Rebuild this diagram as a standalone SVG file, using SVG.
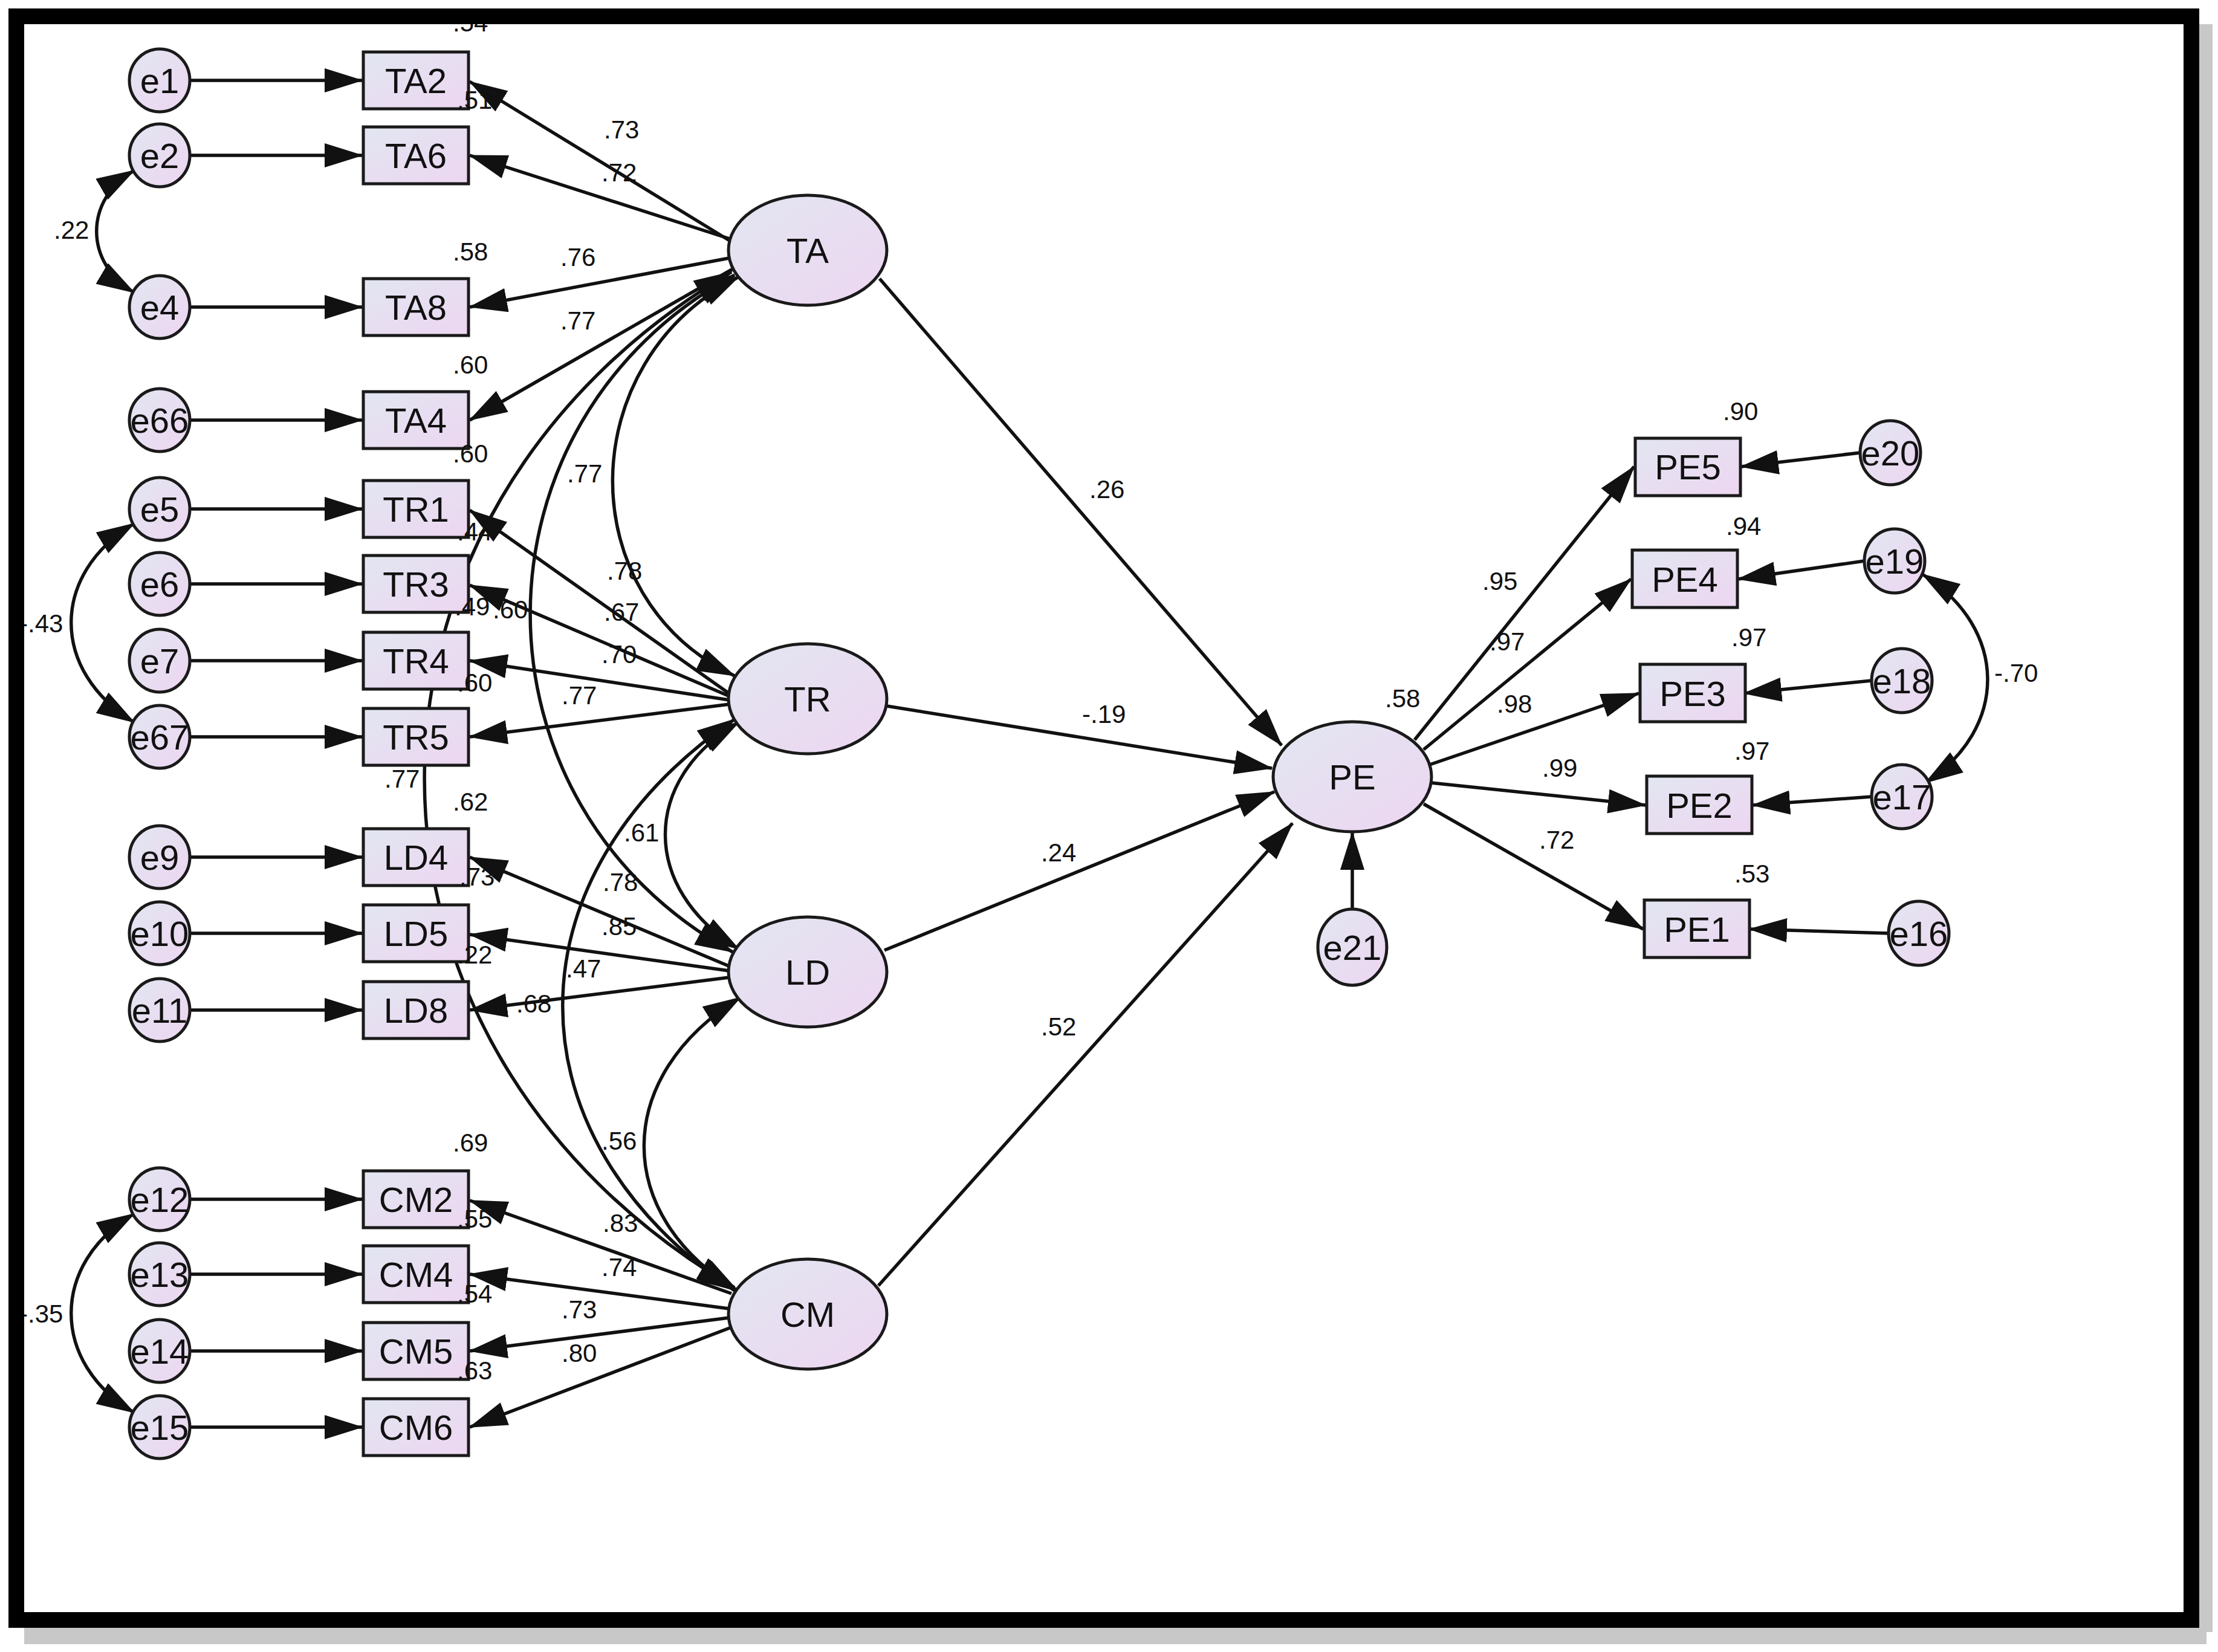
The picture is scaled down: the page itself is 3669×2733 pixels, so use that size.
<svg xmlns="http://www.w3.org/2000/svg" width="3669" height="2733" viewBox="0 0 3669 2733">
<style>
.n{fill:url(#g);stroke:#1a1a1a;stroke-width:5}
.t{font-family:"Liberation Sans",Arial,sans-serif;font-size:58px;fill:#111;text-anchor:middle;dominant-baseline:central}
.l{font-family:"Liberation Sans",Arial,sans-serif;font-size:42px;fill:#111}
.c path{fill:none;stroke:#111;stroke-width:5.5;marker-end:url(#a)}
.c path.d{marker-start:url(#a)}
</style>
<defs>
<linearGradient id="g" x1="0" y1="0" x2="1" y2="1"><stop offset="0" stop-color="#e2e6f1"/><stop offset="1" stop-color="#edd6f1"/></linearGradient>
<marker id="a" markerUnits="userSpaceOnUse" markerWidth="64" markerHeight="40" refX="62" refY="20" orient="auto-start-reverse" viewBox="0 0 64 40"><path d="M0,0 L64,20 L0,40 z" fill="#111"/></marker>
</defs>
<rect width="3669" height="2733" fill="#fff"/>
<rect x="40" y="2690" width="3610" height="30" fill="#c8c8c8"/>
<rect x="3638" y="40" width="22" height="2660" fill="#c8c8c8"/>
<g class="c" id="connectors">
<path d="M315,133 H599"/><path d="M315,257 H599"/><path d="M315,508 H599"/><path d="M315,695 H599"/>
<path d="M315,842 H599"/><path d="M315,966 H599"/><path d="M315,1093 H599"/><path d="M315,1219 H599"/>
<path d="M315,1418 H599"/><path d="M315,1544 H599"/><path d="M315,1671 H599"/>
<path d="M315,1984 H599"/><path d="M315,2108 H599"/><path d="M315,2235 H599"/><path d="M315,2361 H599"/>
<path d="M1210,400 L777,135"/><path d="M1207,395 L777,257"/><path d="M1206,427 L777,508"/><path d="M1212,445 L777,695"/>
<path d="M1210,1150 L777,844"/><path d="M1207,1152 L777,968"/><path d="M1206,1158 L777,1093"/><path d="M1207,1165 L777,1219"/>
<path d="M1210,1600 L777,1418"/><path d="M1206,1606 L777,1546"/><path d="M1206,1617 L777,1671"/>
<path d="M1210,2140 L777,1986"/><path d="M1206,2165 L777,2108"/><path d="M1206,2180 L777,2235"/><path d="M1212,2195 L777,2361"/>
<path d="M1455,461 L2120,1233"/><path d="M1467,1168 L2104,1271"/><path d="M1463,1572 L2108,1310"/><path d="M1453,2127 L2138,1362"/>
<path d="M2340,1224 L2703,772"/><path d="M2355,1240 L2698,958"/><path d="M2365,1265 L2711,1147"/><path d="M2367,1295 L2722,1332"/><path d="M2355,1330 L2718,1537"/>
<path d="M3077,749 L2880,772"/><path d="M3084,928 L2875,958"/><path d="M3096,1126 L2885,1147"/><path d="M3096,1318 L2899,1332"/><path d="M3124,1544 L2894,1537"/>
<path d="M2237,1514 L2237,1377"/>
<path class="d" d="M222,282 C139,330 139,435 222,484"/>
<path class="d" d="M222,866 C83,950 83,1110 222,1195"/>
<path class="d" d="M222,2008 C83,2090 83,2255 222,2337"/>
<path class="d" d="M3180,950 C3323,1040 3323,1205 3185,1295"/>
<path class="d" d="M1222,458 C945,600 945,990 1215,1118"/>
<path class="d" d="M1215,455 C765,700 765,1330 1212,1575"/>
<path class="d" d="M1210,450 C532,850 532,1730 1215,2130"/>
<path class="d" d="M1222,1195 C1060,1290 1060,1470 1222,1570"/>
<path class="d" d="M1215,1190 C836,1450 836,1880 1215,2135"/>
<path class="d" d="M1225,1650 C1013,1780 1013,2010 1220,2135"/>
</g>
<g id="e1"><ellipse class="n" cx="264" cy="133" rx="50" ry="52"/><text class="t" x="264" y="133">e1</text></g>
<g id="e2"><ellipse class="n" cx="264" cy="257" rx="50" ry="52"/><text class="t" x="264" y="257">e2</text></g>
<g id="e4"><ellipse class="n" cx="264" cy="508" rx="50" ry="52"/><text class="t" x="264" y="508">e4</text></g>
<g id="e66"><ellipse class="n" cx="264" cy="695" rx="50" ry="52"/><text class="t" x="264" y="695">e66</text></g>
<g id="e5"><ellipse class="n" cx="264" cy="842" rx="50" ry="52"/><text class="t" x="264" y="842">e5</text></g>
<g id="e6"><ellipse class="n" cx="264" cy="966" rx="50" ry="52"/><text class="t" x="264" y="966">e6</text></g>
<g id="e7"><ellipse class="n" cx="264" cy="1093" rx="50" ry="52"/><text class="t" x="264" y="1093">e7</text></g>
<g id="e67"><ellipse class="n" cx="264" cy="1219" rx="50" ry="52"/><text class="t" x="264" y="1219">e67</text></g>
<g id="e9"><ellipse class="n" cx="264" cy="1418" rx="50" ry="52"/><text class="t" x="264" y="1418">e9</text></g>
<g id="e10"><ellipse class="n" cx="264" cy="1544" rx="50" ry="52"/><text class="t" x="264" y="1544">e10</text></g>
<g id="e11"><ellipse class="n" cx="264" cy="1671" rx="50" ry="52"/><text class="t" x="264" y="1671">e11</text></g>
<g id="e12"><ellipse class="n" cx="264" cy="1984" rx="50" ry="52"/><text class="t" x="264" y="1984">e12</text></g>
<g id="e13"><ellipse class="n" cx="264" cy="2108" rx="50" ry="52"/><text class="t" x="264" y="2108">e13</text></g>
<g id="e14"><ellipse class="n" cx="264" cy="2235" rx="50" ry="52"/><text class="t" x="264" y="2235">e14</text></g>
<g id="e15"><ellipse class="n" cx="264" cy="2361" rx="50" ry="52"/><text class="t" x="264" y="2361">e15</text></g>
<g id="TA2"><rect class="n" x="601" y="86" width="174" height="94"/><text class="t" x="688" y="133">TA2</text></g>
<g id="TA6"><rect class="n" x="601" y="210" width="174" height="94"/><text class="t" x="688" y="257">TA6</text></g>
<g id="TA8"><rect class="n" x="601" y="461" width="174" height="94"/><text class="t" x="688" y="508">TA8</text></g>
<g id="TA4"><rect class="n" x="601" y="648" width="174" height="94"/><text class="t" x="688" y="695">TA4</text></g>
<g id="TR1"><rect class="n" x="601" y="795" width="174" height="94"/><text class="t" x="688" y="842">TR1</text></g>
<g id="TR3"><rect class="n" x="601" y="919" width="174" height="94"/><text class="t" x="688" y="966">TR3</text></g>
<g id="TR4"><rect class="n" x="601" y="1046" width="174" height="94"/><text class="t" x="688" y="1093">TR4</text></g>
<g id="TR5"><rect class="n" x="601" y="1172" width="174" height="94"/><text class="t" x="688" y="1219">TR5</text></g>
<g id="LD4"><rect class="n" x="601" y="1371" width="174" height="94"/><text class="t" x="688" y="1418">LD4</text></g>
<g id="LD5"><rect class="n" x="601" y="1497" width="174" height="94"/><text class="t" x="688" y="1544">LD5</text></g>
<g id="LD8"><rect class="n" x="601" y="1624" width="174" height="94"/><text class="t" x="688" y="1671">LD8</text></g>
<g id="CM2"><rect class="n" x="601" y="1937" width="174" height="94"/><text class="t" x="688" y="1984">CM2</text></g>
<g id="CM4"><rect class="n" x="601" y="2061" width="174" height="94"/><text class="t" x="688" y="2108">CM4</text></g>
<g id="CM5"><rect class="n" x="601" y="2188" width="174" height="94"/><text class="t" x="688" y="2235">CM5</text></g>
<g id="CM6"><rect class="n" x="601" y="2314" width="174" height="94"/><text class="t" x="688" y="2361">CM6</text></g>
<g id="TA"><ellipse class="n" cx="1336" cy="414" rx="131" ry="91"/><text class="t" x="1336" y="414">TA</text></g>
<g id="TR"><ellipse class="n" cx="1336" cy="1156" rx="131" ry="91"/><text class="t" x="1336" y="1156">TR</text></g>
<g id="LD"><ellipse class="n" cx="1336" cy="1608" rx="131" ry="91"/><text class="t" x="1336" y="1608">LD</text></g>
<g id="CM"><ellipse class="n" cx="1336" cy="2174" rx="131" ry="91"/><text class="t" x="1336" y="2174">CM</text></g>
<g id="PE"><ellipse class="n" cx="2237" cy="1285" rx="131" ry="91"/><text class="t" x="2237" y="1285">PE</text></g>
<g id="e21"><ellipse class="n" cx="2237" cy="1567" rx="57" ry="63"/><text class="t" x="2237" y="1567">e21</text></g>
<g id="PE5"><rect class="n" x="2705" y="725" width="174" height="95"/><text class="t" x="2792" y="772">PE5</text></g>
<g id="PE4"><rect class="n" x="2700" y="910" width="174" height="95"/><text class="t" x="2787" y="958">PE4</text></g>
<g id="PE3"><rect class="n" x="2713" y="1099" width="174" height="95"/><text class="t" x="2800" y="1147">PE3</text></g>
<g id="PE2"><rect class="n" x="2724" y="1284" width="174" height="95"/><text class="t" x="2811" y="1332">PE2</text></g>
<g id="PE1"><rect class="n" x="2720" y="1489" width="174" height="95"/><text class="t" x="2807" y="1537">PE1</text></g>
<g id="e20"><ellipse class="n" cx="3127" cy="749" rx="50" ry="53"/><text class="t" x="3127" y="749">e20</text></g>
<g id="e19"><ellipse class="n" cx="3134" cy="928" rx="50" ry="53"/><text class="t" x="3134" y="928">e19</text></g>
<g id="e18"><ellipse class="n" cx="3146" cy="1126" rx="50" ry="53"/><text class="t" x="3146" y="1126">e18</text></g>
<g id="e17"><ellipse class="n" cx="3146" cy="1318" rx="50" ry="53"/><text class="t" x="3146" y="1318">e17</text></g>
<g id="e16"><ellipse class="n" cx="3174" cy="1544" rx="50" ry="53"/><text class="t" x="3174" y="1544">e16</text></g>
<g id="labels" class="l">
<text x="749" y="52">.54</text><text x="756" y="180">.51</text><text x="749" y="431">.58</text><text x="749" y="618">.60</text>
<text x="749" y="765">.60</text><text x="756" y="894">.44</text><text x="752" y="1018">.49</text><text x="815" y="1023">.60</text>
<text x="756" y="1144">.60</text><text x="636" y="1303">.77</text><text x="749" y="1341">.62</text><text x="760" y="1465">.73</text>
<text x="756" y="1594">.22</text><text x="936" y="1617">.47</text><text x="854" y="1675">.68</text><text x="749" y="1905">.69</text>
<text x="756" y="2031">.55</text><text x="756" y="2155">.54</text><text x="756" y="2282">.63</text>
<text x="999" y="229">.73</text><text x="995" y="300">.72</text><text x="927" y="440">.76</text><text x="927" y="545">.77</text>
<text x="938" y="798">.77</text><text x="1004" y="959">.78</text><text x="999" y="1027">.67</text><text x="995" y="1097">.70</text>
<text x="929" y="1165">.77</text><text x="1032" y="1392">.61</text><text x="997" y="1474">.78</text><text x="995" y="1547">.85</text>
<text x="995" y="1902">.56</text><text x="997" y="2038">.83</text><text x="995" y="2111">.74</text><text x="929" y="2181">.73</text><text x="929" y="2253">.80</text>
<text x="1802" y="824">.26</text><text x="1790" y="1196">-.19</text><text x="1722" y="1425">.24</text><text x="1722" y="1713">.52</text><text x="2291" y="1170">.58</text>
<text x="2452" y="976">.95</text><text x="2464" y="1076">.97</text><text x="2476" y="1179">.98</text><text x="2551" y="1285">.99</text><text x="2546" y="1404">.72</text>
<text x="2850" y="695">.90</text><text x="2855" y="885">.94</text><text x="2864" y="1069">.97</text><text x="2869" y="1257">.97</text><text x="2869" y="1460">.53</text>
<text x="3299" y="1128">-.70</text><text x="89" y="395">.22</text><text x="32" y="1046">-.43</text><text x="32" y="2188">-.35</text>
</g>
<rect x="27" y="27" width="3598" height="2653" fill="none" stroke="#000" stroke-width="26"/>
</svg>
